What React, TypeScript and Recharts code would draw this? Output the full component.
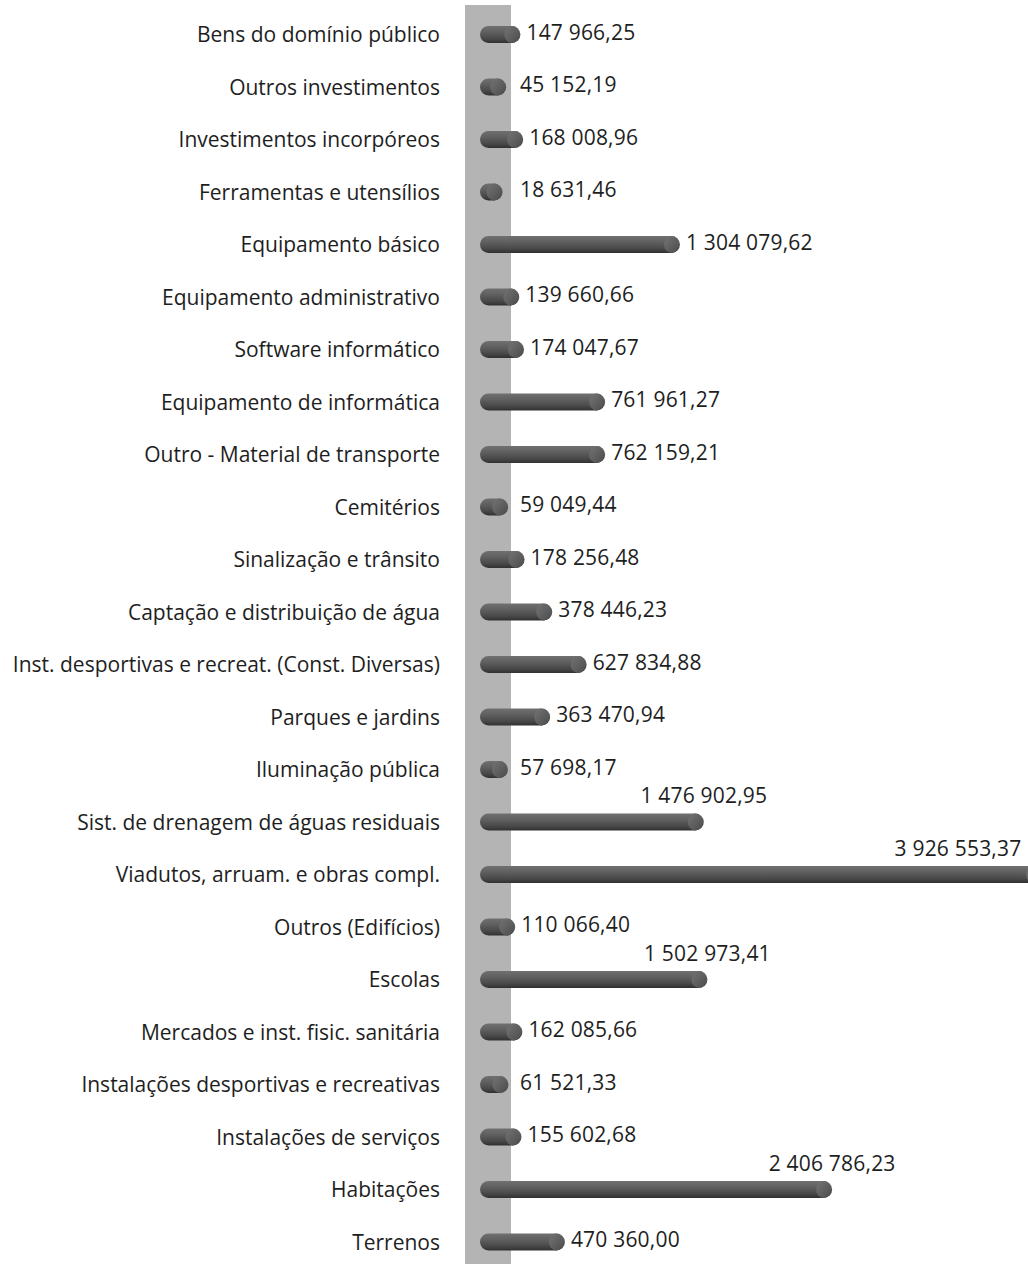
import React from "react";
import { BarChart, Bar, XAxis, YAxis, LabelList, Customized } from "recharts";

const categories = [
  "Bens do domínio público",
  "Outros investimentos",
  "Investimentos incorpóreos",
  "Ferramentas e utensílios",
  "Equipamento básico",
  "Equipamento administrativo",
  "Software informático",
  "Equipamento de informática",
  "Outro - Material de transporte",
  "Cemitérios",
  "Sinalização e trânsito",
  "Captação e distribuição de água",
  "Inst. desportivas e recreat. (Const. Diversas)",
  "Parques e jardins",
  "Iluminação pública",
  "Sist. de drenagem de águas residuais",
  "Viadutos, arruam. e obras compl.",
  "Outros (Edifícios)",
  "Escolas",
  "Mercados e inst. fisic. sanitária",
  "Instalações desportivas e recreativas",
  "Instalações de serviços",
  "Habitações",
  "Terrenos",
];

const values = [
  147966.25, 45152.19, 168008.96, 18631.46, 1304079.62, 139660.66, 174047.67,
  761961.27, 762159.21, 59049.44, 178256.48, 378446.23, 627834.88, 363470.94,
  57698.17, 1476902.95, 3926553.37, 110066.4, 1502973.41, 162085.66, 61521.33,
  155602.68, 2406786.23, 470360.0,
];

const data = categories.map((name, i) => ({ name, value: values[i] }));

const FONT = "'Open Sans', Lato, sans-serif";
const FS = 21;
const W = 1028;
const H = 1268;

function fmt(v: number): string {
  const [intPart, dec] = v.toFixed(2).split(".");
  const grouped = intPart.replace(/\B(?=(\d{3})+(?!\d))/g, " ");
  return grouped + "," + dec;
}

const CAP = 20;

function Cylinder(props: any) {
  const { x, y, width, height } = props;
  if (x == null || y == null) return null;
  const left = x - CAP;
  const w = Math.max(width + CAP, height);
  const r = height / 2;
  const endX = left + w - r;
  return (
    <g>
      <rect x={left} y={y} width={w} height={height} rx={r} ry={r} fill="url(#cylGrad)" />
      <ellipse cx={endX} cy={y + r} rx={r - 1} ry={r} fill="url(#capGrad)" />
    </g>
  );
}

function ValueLabel(props: any) {
  const { x, y, width, height, value } = props;
  if (x == null) return null;
  const end = x + width;
  const cy = y + height / 2;
  const text = fmt(value);
  if (value >= 1400000) {
    const cx = Math.min(end, W - 70);
    return (
      <text x={cx} y={cy - 27} textAnchor="middle" dominantBaseline="central"
        fontFamily={FONT} fontSize={FS} fill="#1e1e1e" letterSpacing={0.2}>
        {text}
      </text>
    );
  }
  const lx = Math.max(end + 6, 520);
  return (
    <text x={lx} y={cy - 3} textAnchor="start" dominantBaseline="central"
      fontFamily={FONT} fontSize={FS} fill="#1e1e1e" letterSpacing={0.2}>
      {text}
    </text>
  );
}

function CatTick(props: any) {
  const { y, payload } = props;
  return (
    <text x={440} y={y} textAnchor="end" dominantBaseline="central"
      fontFamily={FONT} fontSize={FS} fill="#1e1e1e">
      {payload.value}
    </text>
  );
}

function Wall() {
  return (
    <g>
      <defs>
        <linearGradient id="cylGrad" x1="0" y1="0" x2="0" y2="1">
          <stop offset="0%" stopColor="#707070" />
          <stop offset="35%" stopColor="#606060" />
          <stop offset="75%" stopColor="#484848" />
          <stop offset="100%" stopColor="#303030" />
        </linearGradient>
        <linearGradient id="capGrad" x1="0" y1="0" x2="1" y2="1">
          <stop offset="0%" stopColor="#747474" />
          <stop offset="100%" stopColor="#4c4c4c" />
        </linearGradient>
      </defs>
      <rect x={465} y={5} width={46} height={H} fill="#b4b4b4" />
    </g>
  );
}

export default function App() {
  return (
    <div style={{ position: "absolute", left: 0, top: 0, width: W, height: 1264, overflow: "hidden", background: "#fff" }}>
      <BarChart
        width={W}
        height={H}
        data={data}
        layout="vertical"
        margin={{ top: 8, right: 0, bottom: 0, left: 0 }}
        barCategoryGap={0}
      >
        <Customized component={Wall} />
        <XAxis type="number" hide domain={[-145000, 3826000]} allowDataOverflow />
        <YAxis
          type="category"
          dataKey="name"
          width={480}
          axisLine={false}
          tickLine={false}
          tick={<CatTick />}
          interval={0}
        />
        <Bar dataKey="value" barSize={17} shape={<Cylinder />} isAnimationActive={false}>
          <LabelList dataKey="value" content={<ValueLabel />} />
        </Bar>
      </BarChart>
    </div>
  );
}
